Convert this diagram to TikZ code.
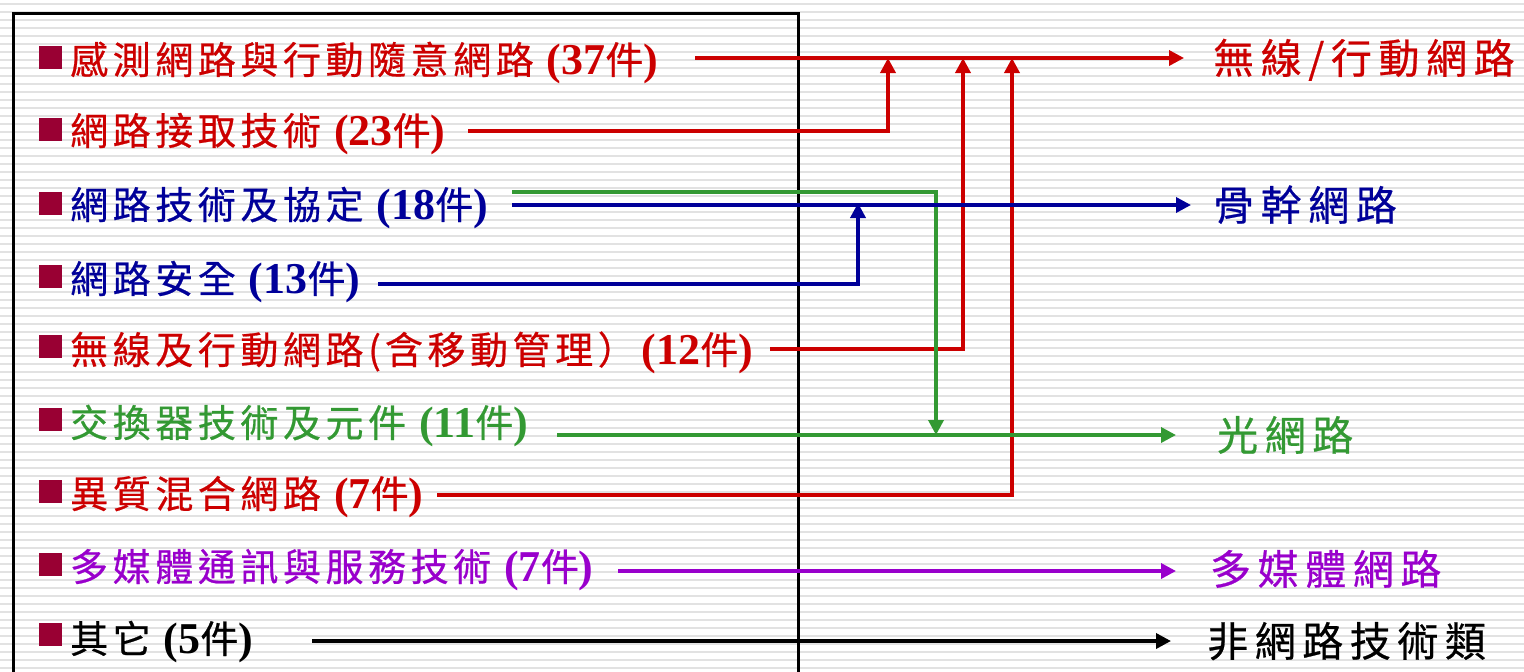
\documentclass[tikz,border=0pt]{standalone}
\usepackage{fontspec}
\setmainfont[LetterSpace=12,FakeBold=0.6]{Noto Sans CJK TC}
\newfontfamily\tnr{Liberation Serif}
\usetikzlibrary{arrows.meta}
\definecolor{cred}{HTML}{CC0000}
\definecolor{cblue}{HTML}{000099}
\definecolor{cgreen}{HTML}{339933}
\definecolor{cpurple}{HTML}{9900CC}
\definecolor{cbullet}{HTML}{990033}
\definecolor{stripe}{HTML}{E2E2E2}
\newcommand{\tb}[1]{{\tnr\bfseries\fontsize{44}{46}\selectfont #1}}
\newcommand{\cnt}[1]{\tb{(#1}件\tb{)}}
\begin{document}
\begin{tikzpicture}[x=1pt,y=-1pt,
  lbl/.style={anchor=west,inner sep=0pt,font=\fontsize{38}{40}\selectfont,text height=33pt,text depth=5pt},
  rlbl/.style={anchor=west,inner sep=0pt,font=\fontsize{41}{44}\selectfont\addfontfeatures{LetterSpace=16},text height=36pt,text depth=5pt},
  bul/.style={fill=cbullet,minimum size=23pt,inner sep=0pt},
  conn/.style={line width=3.5pt},
  tip/.style={-{Triangle[length=15pt,width=15pt]}}]
\useasboundingbox (0,0) rectangle (1524,672);
% background stripes
\foreach \k in {0,...,84} {\fill[stripe] (0,{3+8*\k}) rectangle (1524,{5+8*\k});}
% frame
\draw[line width=3.5pt] (13.5,672) -- (13.5,13.5) -- (798.5,13.5) -- (798.5,672);
% bullets
\foreach \i/\y in {1/57,2/129,3/203,4/276,5/346,6/419,7/491,8/564,9/634}
  \node[bul] (b\i) at (50,\y) {};
% left labels
\node[lbl,text=cred]   (t1) at (70,60)  {感測網路與行動隨意網路 \cnt{37}};
\node[lbl,text=cred]   (t2) at (70,131) {網路接取技術 \cnt{23}};
\node[lbl,text=cblue]  (t3) at (70,205) {網路技術及協定 \cnt{18}};
\node[lbl,text=cblue]  (t4) at (70,279) {網路安全 \cnt{13}};
\node[lbl,text=cred]   (t5) at (70,350) {無線及行動網路(\kern4pt 含移動管理）\kern6pt\cnt{12}};
\node[lbl,text=cgreen] (t6) at (70,423) {交換器技術及元件 \cnt{11}};
\node[lbl,text=cred]   (t7) at (70,494) {異質混合網路 \cnt{7}};
\node[lbl,text=cpurple](t8) at (70,567) {多媒體通訊與服務技術 \cnt{7}};
\node[lbl,text=black]  (t9) at (70,639) {其它 \cnt{5}};
% right labels
\node[rlbl,text=cred]    (r1) at (1213,58)  {無線/行動網路};
\node[rlbl,text=cblue]   (r2) at (1213,205) {骨幹網路};
\node[rlbl,text=cgreen]  (r3) at (1217,435) {光網路};
\node[rlbl,text=cpurple] (r4) at (1210,569) {多媒體網路};
\node[rlbl,text=black]   (r5) at (1207,641) {非網路技術類};
% connector points
\coordinate (s1) at (695,58);   \coordinate (e1) at (1184,58);
\coordinate (s2) at (468,131);  \coordinate (k2) at (888,131);
\coordinate (s5) at (770,349);  \coordinate (k5) at (963,349);
\coordinate (s7) at (437,495);  \coordinate (k7) at (1012,495);
\coordinate (s3) at (512,205);  \coordinate (e3) at (1191,205);
\coordinate (s4) at (378,284);  \coordinate (k4) at (858,284);
\coordinate (g3) at (512,192);  \coordinate (kg) at (936,192);
\coordinate (s6) at (557,435);  \coordinate (e6) at (1176,435);
\coordinate (s8) at (618,571);  \coordinate (e8) at (1176,571);
\coordinate (s9) at (312,641);  \coordinate (e9) at (1171,641);
% red
\draw[conn,cred,tip] (s1) -- (e1);
\draw[conn,cred,tip] (s2) -- (k2) -- (k2 |- s1);
\draw[conn,cred,tip] (s5) -- (k5) -- (k5 |- s1);
\draw[conn,cred,tip] (s7) -- (k7) -- (k7 |- s1);
% green
\draw[conn,cgreen,tip] (g3) -- (kg) -- (kg |- s6);
\draw[conn,cgreen,tip] (s6) -- (e6);
% blue
\draw[conn,cblue,tip] (s3) -- (e3);
\draw[conn,cblue,tip] (s4) -- (k4) -- ([yshift=2pt]k4 |- s3);
% purple, black
\draw[conn,cpurple,tip] (s8) -- (e8);
\draw[conn,black,tip] (s9) -- (e9);
\end{tikzpicture}
\end{document}
